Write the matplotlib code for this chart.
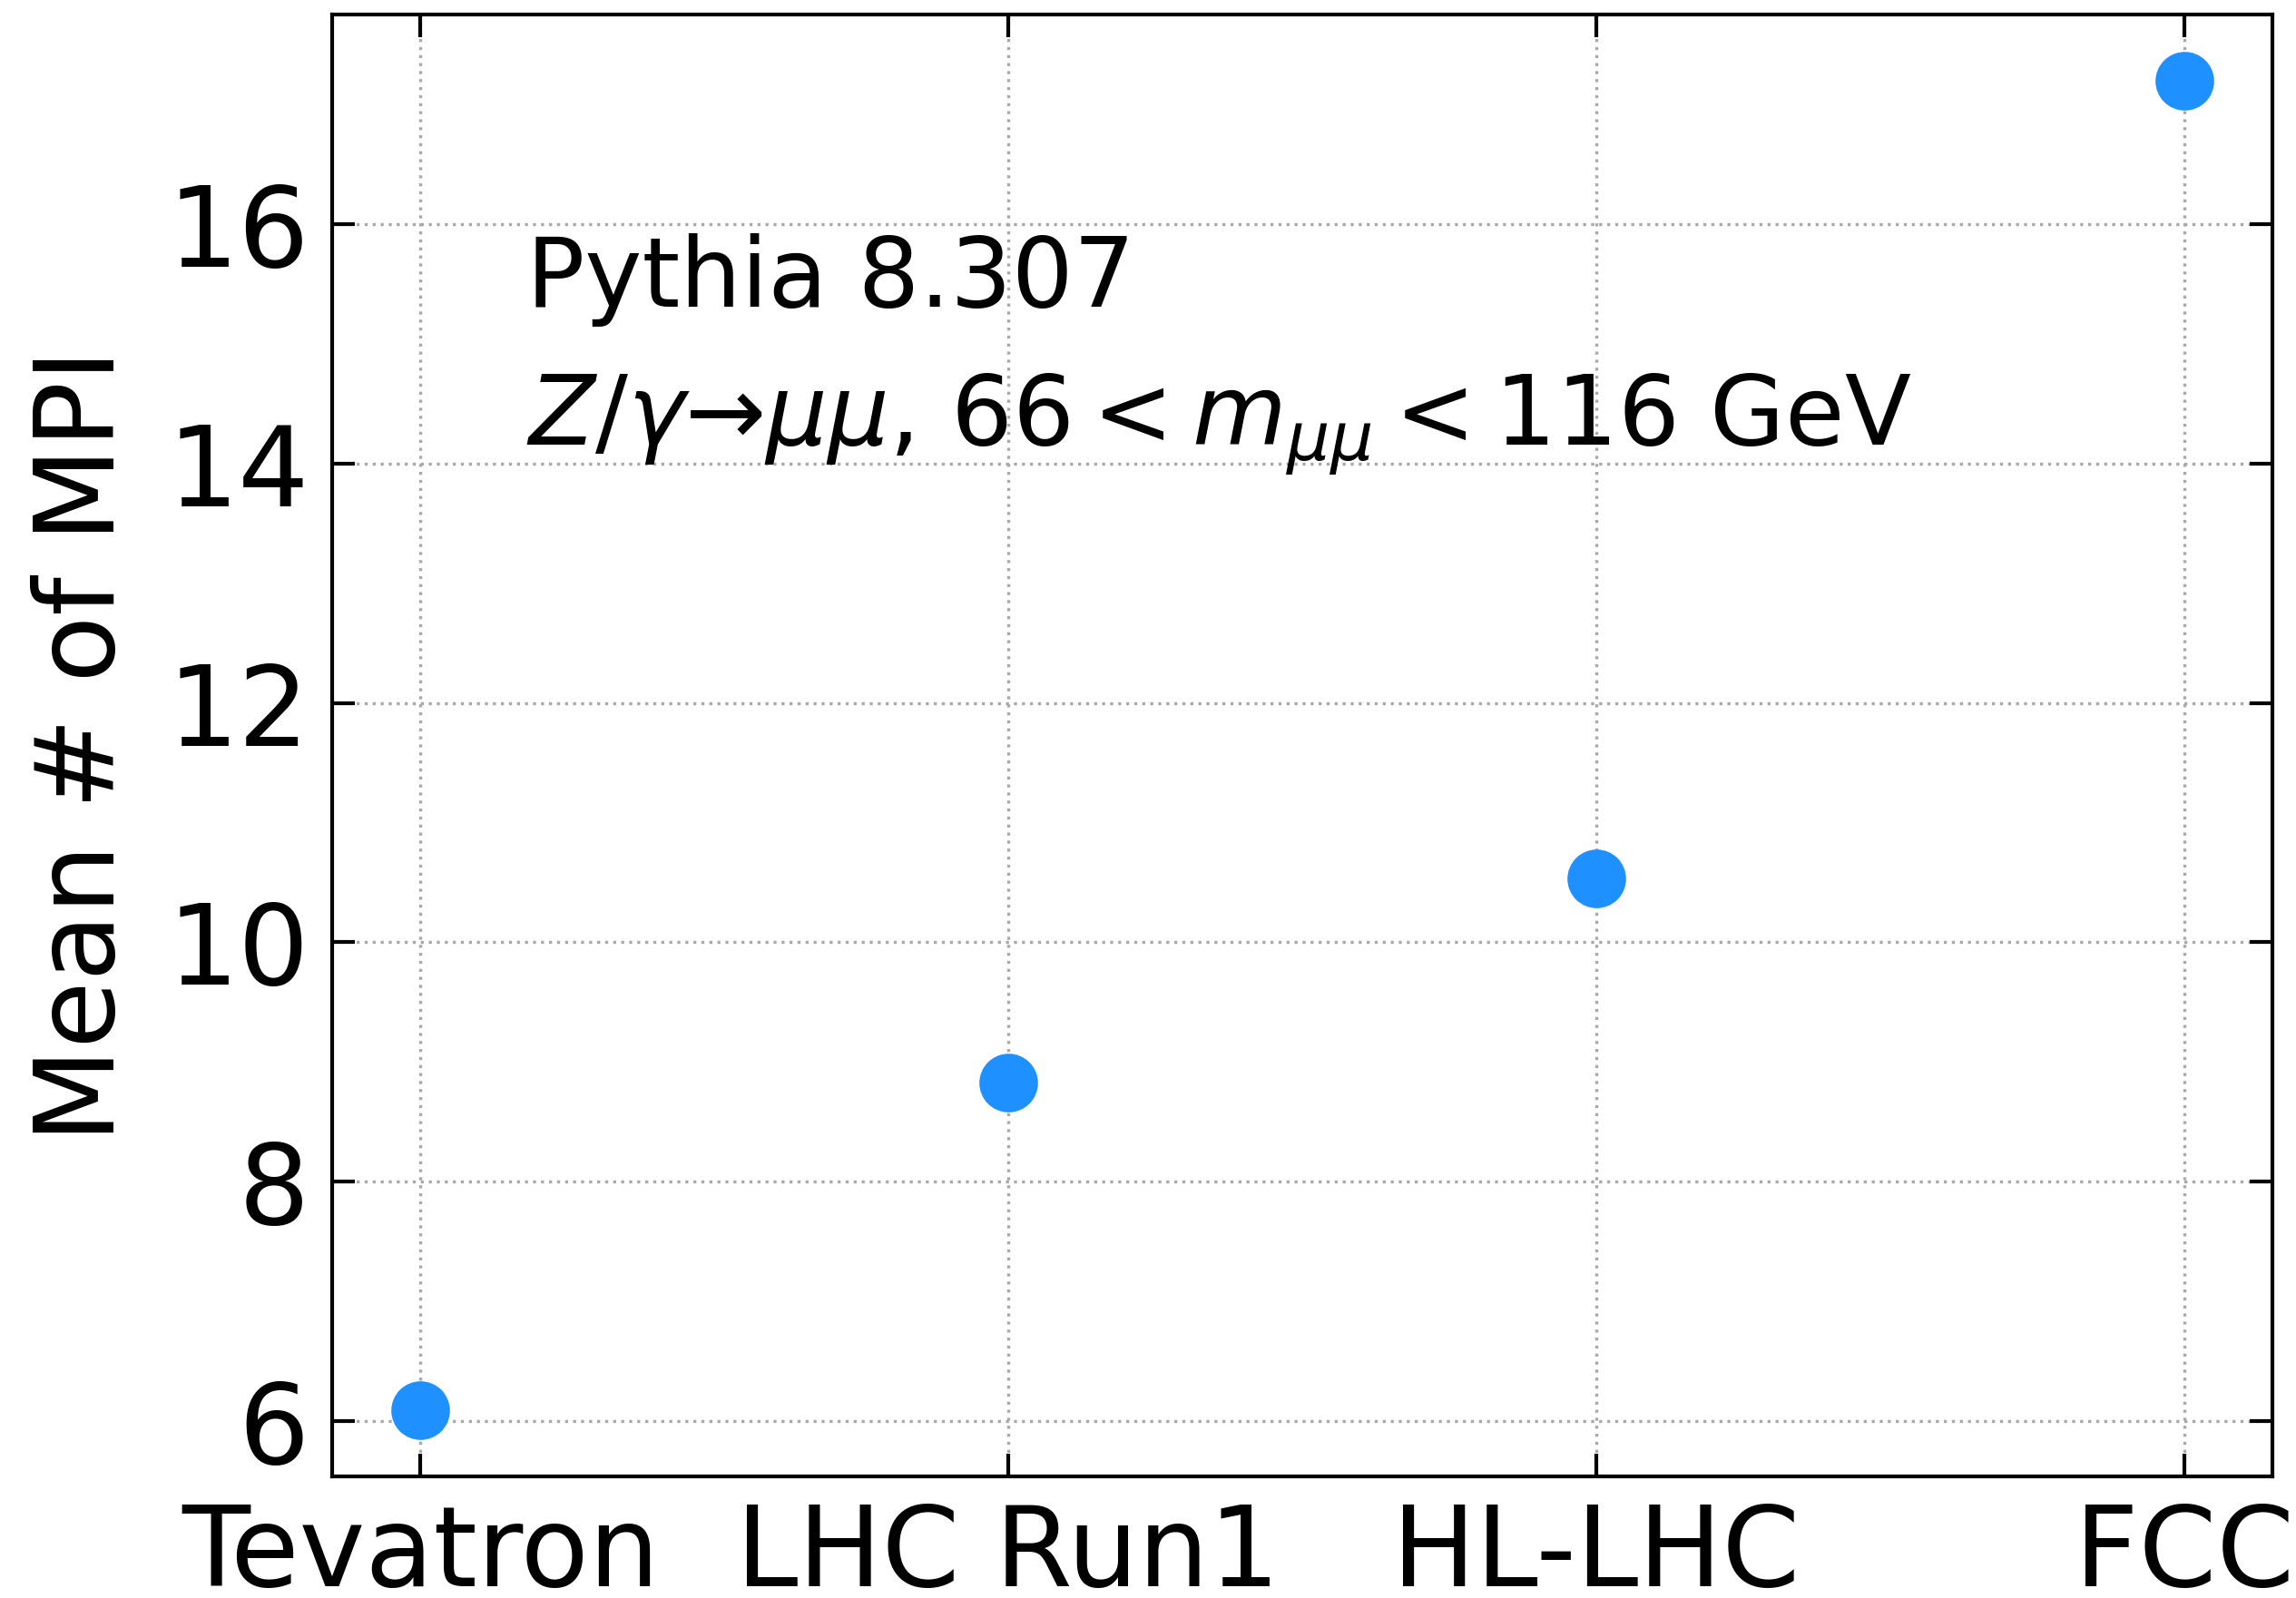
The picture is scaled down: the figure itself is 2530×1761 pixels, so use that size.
import numpy as np
import matplotlib
matplotlib.use("Agg")
import matplotlib.pyplot as plt

colliders = ["Tevatron", "LHC Run1", "HL-LHC", "FCC"]
mean_mpi = [6.09, 8.83, 10.53, 17.20]

fig = plt.figure(figsize=(2530 / 300, 1761 / 300), dpi=300)
ax = fig.add_axes([0.1447, 0.0761, 0.845, 0.9148])

x = np.arange(len(colliders))
ax.plot(x, mean_mpi, "o", color="dodgerblue", markersize=14.5, zorder=3)

ax.set_xticks(x)
ax.set_xticklabels(colliders)
ax.set_yticks([6, 8, 10, 12, 14, 16])
ax.set_ylabel("Mean # of MPI", fontsize=29, labelpad=8)
ax.tick_params(direction="in", top=True, right=True, labelsize=29.5, length=6, width=1)
ax.tick_params(axis="x", pad=6.5)
ax.tick_params(axis="y", pad=6)
for s in ax.spines.values():
    s.set_linewidth(1.0)
ax.grid(True, linestyle=":", color="darkgray", linewidth=0.8)

ax.text(0.1, 0.80, "Pythia 8.307", transform=ax.transAxes, fontsize=25.6, va="baseline")
ax.text(0.1, 0.705, r"$Z/\gamma$→$\mu\mu$, $66 < m_{\mu\mu} < 116$ GeV",
        transform=ax.transAxes, fontsize=25.6, va="baseline")

fig.savefig("out.png", dpi=300)
